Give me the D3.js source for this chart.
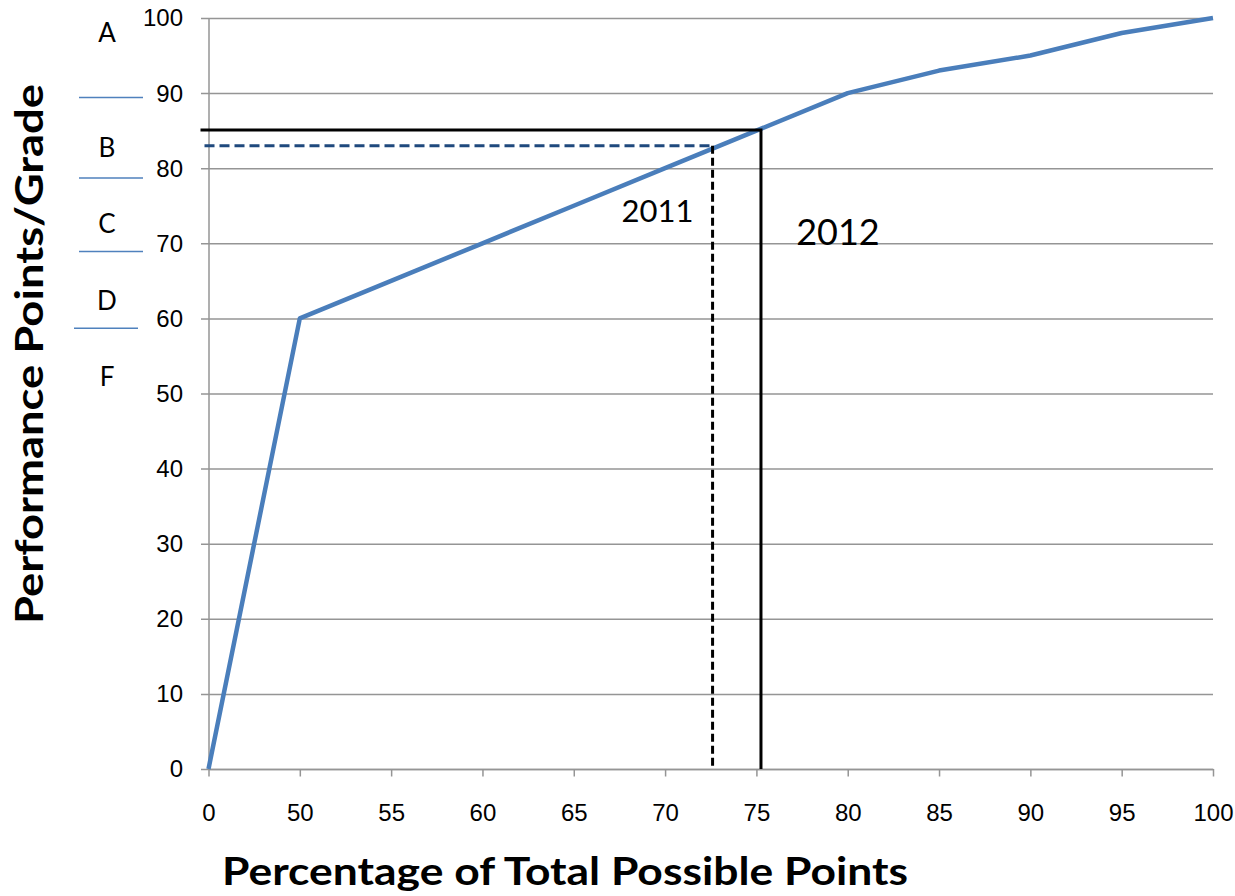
<!DOCTYPE html>
<html>
<head>
<meta charset="utf-8">
<script src="https://cdn.jsdelivr.net/npm/d3@7/dist/d3.min.js"></script>
<style>
  html, body { margin: 0; padding: 0; background: #fff; }
  svg { display: block; font-family: Lato, "Open Sans", sans-serif; }
</style>
</head>
<body>
<svg id="chart" width="1235" height="896"></svg>
<script>
// Percentage of total possible points (category axis) and resulting performance points
const percentCategories = [0, 50, 55, 60, 65, 70, 75, 80, 85, 90, 95, 100];
const performancePoints = [0, 60, 65, 70, 75, 80, 85, 90, 93, 95, 98, 100];
const yTicks = [0, 10, 20, 30, 40, 50, 60, 70, 80, 90, 100];

// Letter grades and the performance-point cut-offs that separate them
const gradeLetters = ["A", "B", "C", "D", "F"];
const gradeLetterLevels = [98.1, 82.8, 72.6, 62.3, 52.2];
const gradeCutoffs = [89.4, 78.7, 68.9, 58.7];

// Year markers: [percentage, performance points]
const years = ["2011", "2012"];
const yearPercent = [72.6, 75.25];
const yearPoints = [83, 85.1];

const svg = d3.select("#chart");
const W = 1235, H = 896;
const margin = { top: 18, right: 22, bottom: 127, left: 208.5 };
const x0 = margin.left, x1 = W - margin.right;
const yTop = margin.top, yBot = H - margin.bottom;

const x = d3.scalePoint().domain(percentCategories).range([x0, x1]);
// continuous position along the category axis, for values between categories
const xCont = d3.scaleLinear().domain(percentCategories).range(percentCategories.map(d => x(d)));
const y = d3.scaleLinear().domain([0, 100]).range([yBot, yTop]);

const gridColor = "#959595";

// horizontal gridlines + y axis
const yAxis = d3.axisLeft(y).tickValues(yTicks).tickSize(-(x1 - x0)).tickSizeOuter(0);
const gy = svg.append("g").attr("transform", `translate(${x0},0)`).call(yAxis);
gy.select(".domain").attr("stroke", gridColor).attr("stroke-width", 1.5);
gy.selectAll(".tick line").attr("stroke", gridColor).attr("stroke-width", 1.5).attr("x1", -7.5);
gy.selectAll(".tick text").attr("font-size", 24).attr("fill", "#000")
  .attr("x", -25.5).attr("dy", "0.33em");

// x axis
const xAxis = d3.axisBottom(x).tickSize(7.5).tickSizeOuter(0);
const gx = svg.append("g").attr("transform", `translate(0,${yBot})`).call(xAxis);
gx.select(".domain").attr("stroke", gridColor).attr("stroke-width", 1.5);
gx.selectAll(".tick line").attr("stroke", gridColor).attr("stroke-width", 1.5);
gx.selectAll(".tick text").attr("font-size", 24).attr("fill", "#000")
  .attr("y", 52).attr("dy", 0);

// performance curve
const series = percentCategories.map((c, i) => ({ c, v: performancePoints[i] }));
svg.append("path")
  .datum(series)
  .attr("fill", "none")
  .attr("stroke", "#4a7ebb")
  .attr("stroke-width", 4.5)
  .attr("stroke-linejoin", "round")
  .attr("d", d3.line().x(d => x(d.c)).y(d => y(d.v)));

// 2011 marker lines (dashed)
svg.append("line")
  .attr("x1", x0 - 4).attr("x2", xCont(yearPercent[0]))
  .attr("y1", y(yearPoints[0])).attr("y2", y(yearPoints[0]))
  .attr("stroke", "#1f497d").attr("stroke-width", 3).attr("stroke-dasharray", "10,5");
svg.append("line")
  .attr("x1", xCont(yearPercent[0])).attr("x2", xCont(yearPercent[0]))
  .attr("y1", y(yearPoints[0])).attr("y2", yBot)
  .attr("stroke", "#000").attr("stroke-width", 3).attr("stroke-dasharray", "8,4");

// 2012 marker lines (solid)
svg.append("path")
  .attr("fill", "none").attr("stroke", "#000").attr("stroke-width", 3)
  .attr("d", `M${x0 - 8},${y(yearPoints[1])}H${xCont(yearPercent[1])}V${yBot}`);

// year labels
svg.append("text").attr("x", 657.5).attr("y", 222).attr("text-anchor", "middle")
  .attr("font-size", 31).text(years[0]);
svg.append("text").attr("x", 838).attr("y", 245).attr("text-anchor", "middle")
  .attr("font-size", 36).text(years[1]);

// grade letters and separators
svg.selectAll(".grade").data(gradeLetters).enter().append("text")
  .attr("x", 107).attr("y", (d, i) => y(gradeLetterLevels[i]))
  .attr("dy", "0.36em").attr("text-anchor", "middle").attr("font-size", 26)
  .text(d => d);
const sepX = [[79, 143], [79, 143], [79, 143], [74, 138]];
svg.selectAll(".sep").data(gradeCutoffs).enter().append("line")
  .attr("x1", (d, i) => sepX[i][0]).attr("x2", (d, i) => sepX[i][1])
  .attr("y1", d => y(d)).attr("y2", d => y(d))
  .attr("stroke", "#4f81bd").attr("stroke-width", 1.5);

// axis titles
svg.append("text")
  .attr("transform", "translate(43,354) rotate(-90)")
  .attr("text-anchor", "middle").attr("font-size", 39).attr("font-weight", "bold")
  .attr("textLength", 540).attr("lengthAdjust", "spacingAndGlyphs")
  .text("Performance Points/Grade");
svg.append("text")
  .attr("x", 565).attr("y", 885)
  .attr("text-anchor", "middle").attr("font-size", 39).attr("font-weight", "bold")
  .attr("textLength", 686).attr("lengthAdjust", "spacingAndGlyphs")
  .text("Percentage of Total Possible Points");
</script>
</body>
</html>
